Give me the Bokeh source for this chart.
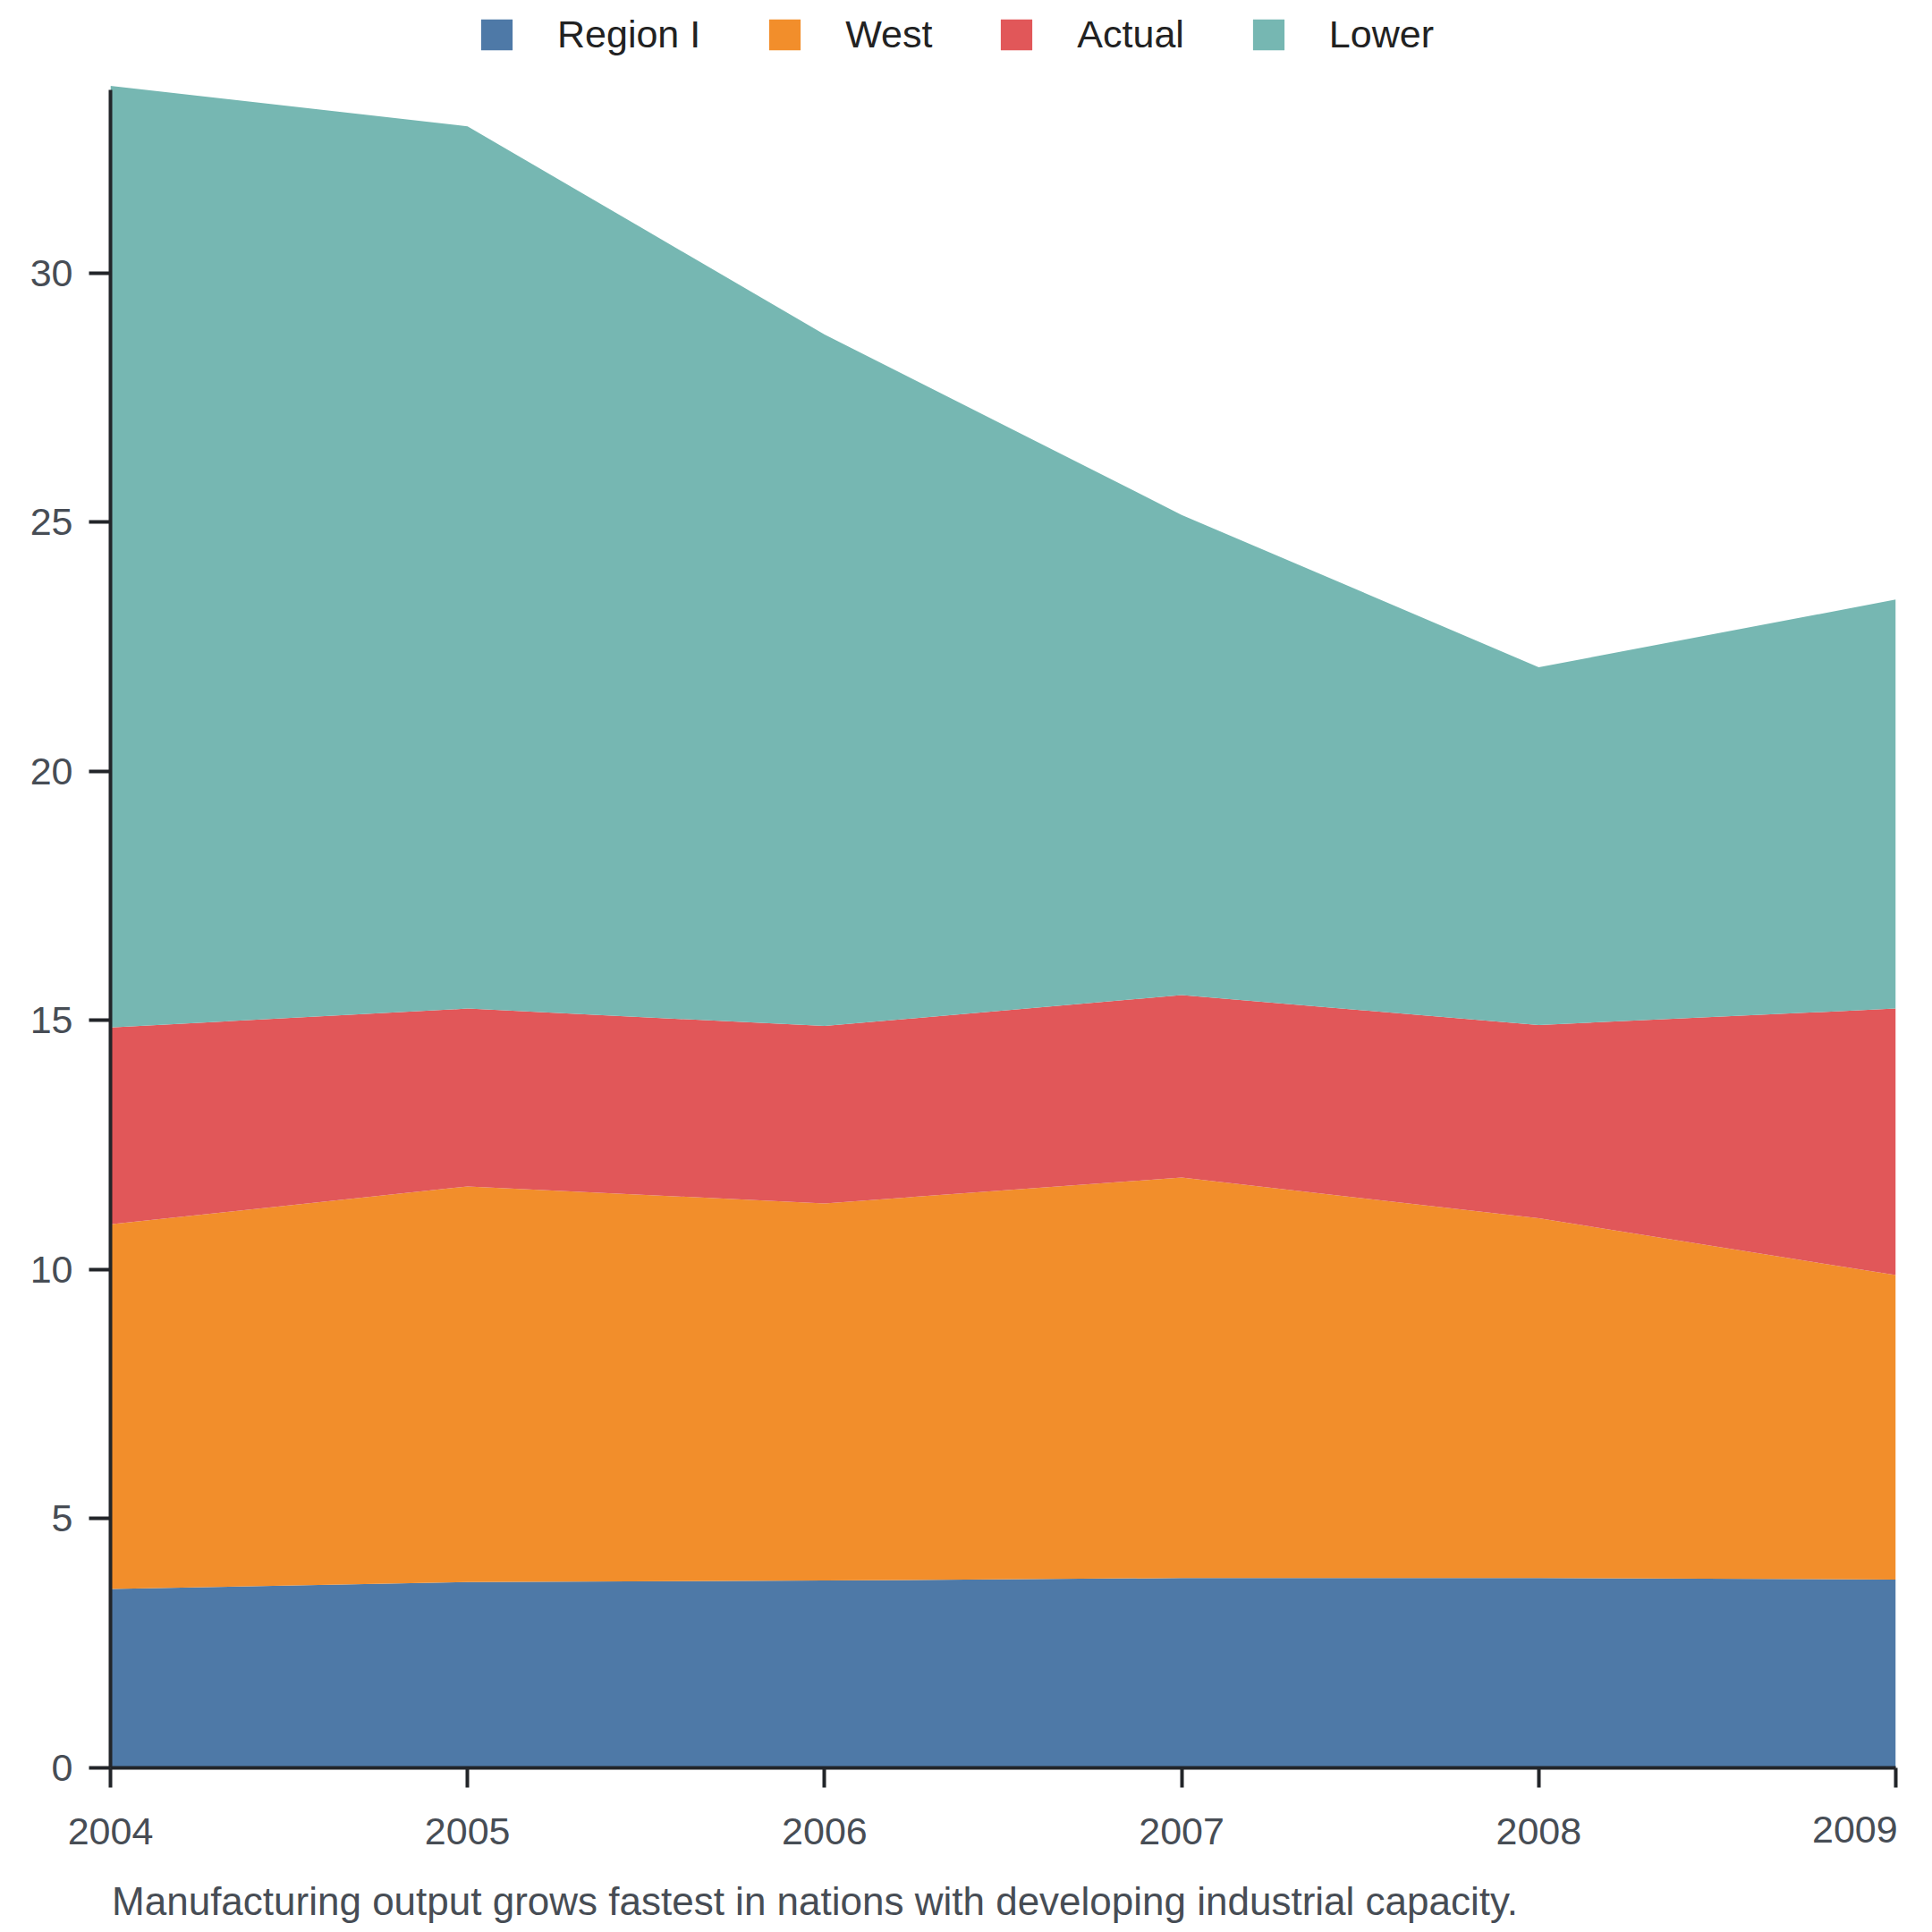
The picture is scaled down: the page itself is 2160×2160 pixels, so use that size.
from bokeh.plotting import figure
from bokeh.models import (ColumnDataSource, FixedTicker, Legend, LegendItem,
                          LinearAxis)
from bokeh.embed import file_html
from bokeh.resources import INLINE

years = [2004, 2005, 2006, 2007, 2008, 2009]
region_i = [3.59, 3.73, 3.76, 3.81, 3.81, 3.78]
west = [7.32, 7.94, 7.57, 8.04, 7.22, 6.11]
actual = [3.95, 3.57, 3.56, 3.66, 3.88, 5.35]
lower = [18.90, 17.71, 13.88, 9.64, 7.18, 8.21]

series_names = ["Region I", "West", "Actual", "Lower"]
colors = ["#4e79a7", "#f28e2b", "#e15759", "#76b7b2"]
y_ticks = [0, 5, 10, 15, 20, 25, 30]
y_axis_top = 33.68
caption = "Manufacturing output grows fastest in nations with developing industrial capacity."

FONT = "Liberation Sans"
TXT = "#474d55"
AX = "#222529"
W, H = 2144, 2152
LEFT, RIGHT = 123, 25
FRAME_H = 1976
CAPTION_PX = 1575          # rendered width of the caption at 44px

source = ColumnDataSource(dict(year=years, region_i=region_i, west=west,
                               actual=actual, lower=lower))

p = figure(width=W, height=H, output_backend="svg", toolbar_location=None,
           title_location=None,
           x_range=(years[0], years[-1]),
           y_range=(0, y_axis_top * FRAME_H / (FRAME_H - 100)),
           min_border_left=LEFT, min_border_right=RIGHT,
           min_border_top=0, min_border_bottom=H - FRAME_H)
p.outline_line_color = None
p.grid.visible = False

renderers = p.varea_stack(stackers=["region_i", "west", "actual", "lower"],
                          x="year", source=source, fill_color=colors,
                          fill_alpha=1.0)

def style_axis(ax, size="43px"):
    ax.axis_line_color = AX
    ax.axis_line_width = 4
    ax.major_tick_line_color = AX
    ax.major_tick_line_width = 4
    ax.major_tick_in = 0
    ax.minor_tick_line_color = None
    ax.major_label_text_font = FONT
    ax.major_label_text_font_size = size
    ax.major_label_text_color = TXT

def label_only(ax):
    ax.axis_line_color = None
    ax.major_tick_line_color = None
    ax.major_tick_out = 0

style_axis(p.xaxis[0])
style_axis(p.yaxis[0])

p.xaxis[0].ticker = FixedTicker(ticks=years)
p.xaxis[0].major_tick_out = 22
p.xaxis[0].major_label_standoff = 34
p.xaxis[0].major_label_overrides = {years[-1]: ""}
p.yaxis[0].ticker = FixedTicker(ticks=y_ticks)
p.yaxis[0].major_tick_out = 24
p.yaxis[0].major_label_standoff = 18
p.yaxis[0].bounds = (0, y_axis_top)

# last year label, right aligned at its tick
last_axis = LinearAxis(ticker=FixedTicker(ticks=[years[-1]]))
style_axis(last_axis)
label_only(last_axis)
last_axis.major_label_text_align = "right"
last_axis.major_label_standoff = -34
p.add_layout(last_axis, "below")

# caption, starting at the plot's left edge (centred label, shifted by half its width)
px_per_year = (W - LEFT - RIGHT) / (years[-1] - years[0])
cap_x = years[0] + (CAPTION_PX / 2) / px_per_year
cap_axis = LinearAxis(ticker=FixedTicker(ticks=[cap_x]))
style_axis(cap_axis, "44px")
label_only(cap_axis)
cap_axis.major_label_overrides = {cap_x: caption}
cap_axis.major_label_standoff = 36
p.add_layout(cap_axis, "below")

items = [LegendItem(label=n, renderers=[r]) for n, r in zip(series_names, renderers)]
legend = Legend(items=items, orientation="horizontal", location=(410, 1913),
                glyph_width=44, glyph_height=43, label_standoff=46, spacing=72,
                padding=0, margin=0, border_line_color=None,
                background_fill_alpha=0,
                label_text_font=FONT, label_text_font_size="43px",
                label_text_color="#222222", label_height=43)
p.add_layout(legend, "center")

open("out.html", "w").write(file_html(p, INLINE))
